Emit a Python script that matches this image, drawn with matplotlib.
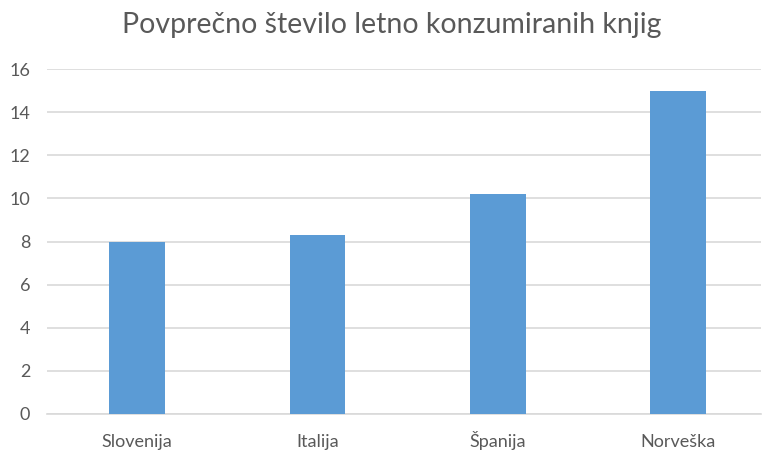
import numpy as np
import matplotlib.pyplot as plt

# podatki
drzave = ['Slovenija', 'Italija', 'Španija', 'Norveška']
knjige = [8.0, 8.3, 10.2, 15.0]
y_ticks = [0, 2, 4, 6, 8, 10, 12, 14, 16]

plt.rcParams['font.family'] = ['Lato', 'DejaVu Sans']

fig = plt.figure(figsize=(7.62, 4.5), dpi=100)
ax = fig.add_axes([47/762, 1-414/450, 714/762, 345/450])

x = np.arange(len(drzave))
ax.bar(x, knjige, width=0.31, color='#5b9bd5', zorder=3)

ax.set_xlim(-0.5, 3.46)
ax.set_ylim(0, 16)
ax.set_yticks(y_ticks)
ax.set_xticks(x)
ax.set_xticklabels(drzave, va='baseline')
ax.grid(axis='y', color='#d9d9d9', linewidth=1.2, zorder=0)
for s in ['top', 'right', 'left']:
    ax.spines[s].set_visible(False)
ax.spines['bottom'].set_color('#d9d9d9')
ax.spines['bottom'].set_linewidth(1.2)
ax.tick_params(axis='both', length=0, colors='#595959', labelsize=13)
ax.tick_params(axis='x', pad=23.5)
ax.tick_params(axis='y', pad=12)

fig.text(392/762, 1-25/450, 'Povprečno število letno konzumiranih knjig',
         ha='center', va='center', fontsize=20.5, color='#595959')

fig.savefig('out.png', dpi=100)
